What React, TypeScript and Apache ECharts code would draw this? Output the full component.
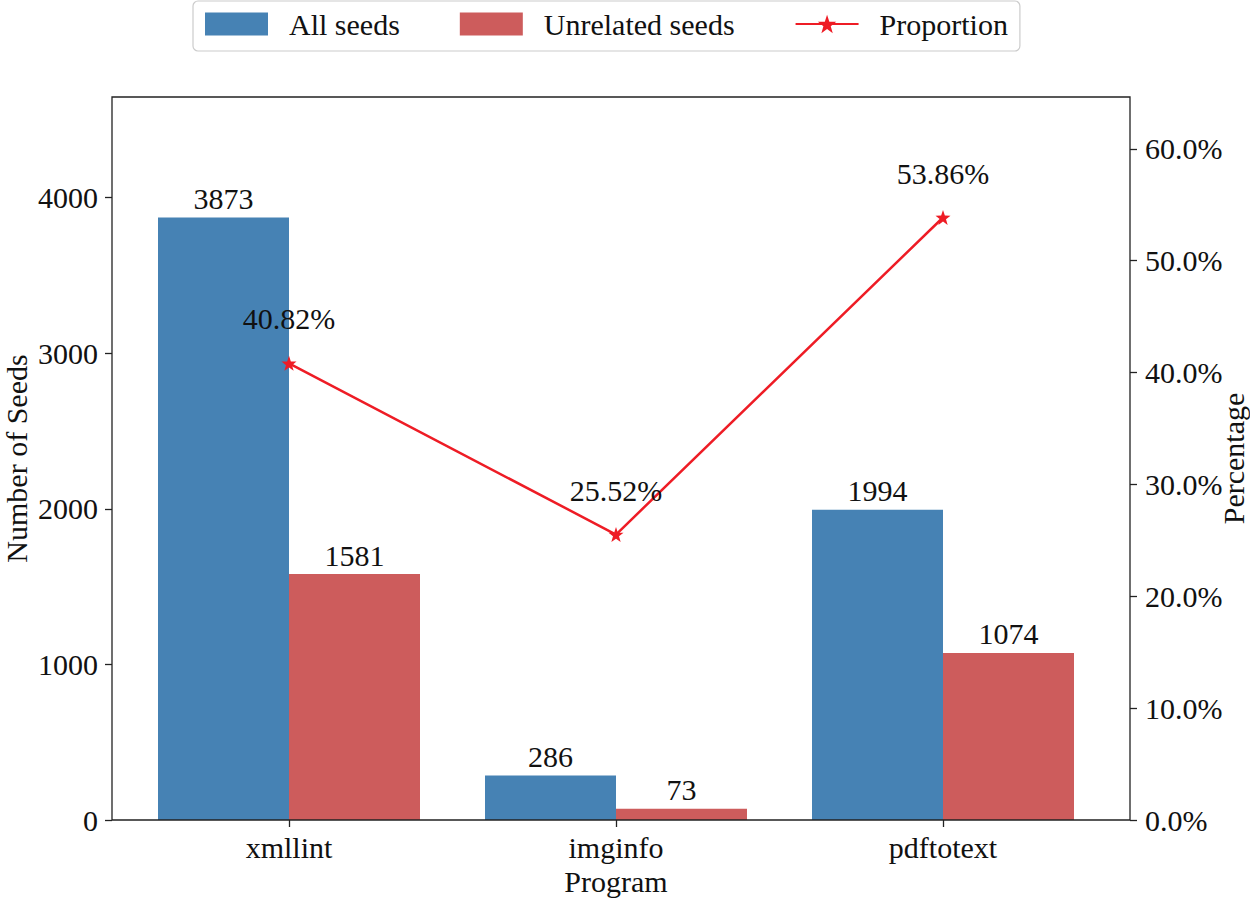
import React, { useEffect, useRef } from "react";
import * as echarts from "echarts";

const categories = ["xmllint", "imginfo", "pdftotext"];
const allSeeds = [3873, 286, 1994];
const unrelatedSeeds = [1581, 73, 1074];
const proportion = [40.82, 25.52, 53.86];
const leftTicks = [0, 1000, 2000, 3000, 4000];
const rightTicks = [0, 10, 20, 30, 40, 50, 60];

const FONT = "Liberation Serif";
const STAR =
  "path://M0,-10L2.35,-3.24L9.51,-3.09L3.8,1.24L5.88,8.09L0,4L-5.88,8.09L-3.8,1.24L-9.51,-3.09L-2.35,-3.24Z";

export default function App() {
  const ref = useRef<HTMLDivElement>(null);
  useEffect(() => {
    document.body.style.margin = "0";
    const chart = echarts.init(ref.current!, null, { renderer: "svg" });
    const leftMax = Math.max(...allSeeds) * 1.2;
    const rightMax = Math.max(...proportion) * 1.2;
    chart.setOption({
      animation: false,
      textStyle: { fontFamily: FONT },
      legend: {
        left: 193,
        top: 1,
        padding: [8, 12, 12, 12],
        itemWidth: 63,
        itemHeight: 23,
        itemGap: 60,
        borderColor: "#cccccc",
        borderWidth: 1.2,
        borderRadius: 5,
        textStyle: { fontFamily: FONT, fontSize: 30, color: "#111", padding: [0, 0, 0, 16] },
        data: [
          { name: "All seeds", icon: "rect" },
          { name: "Unrelated seeds", icon: "rect" },
          { name: "Proportion" },
        ],
      },
      grid: {
        left: 125.5,
        right: 143.5,
        top: 97,
        bottom: 80,
        containLabel: false,
        outerBoundsMode: "none",
      },
      graphic: [
        {
          type: "rect",
          z: 100,
          silent: true,
          shape: { x: 112, y: 97, width: 1018, height: 723 },
          style: { fill: "none", stroke: "#222", lineWidth: 1.3 },
        },
      ],
      xAxis: {
        type: "category",
        data: categories,
        name: "Program",
        nameLocation: "middle",
        nameGap: 46,
        nameMoveOverlap: false,
        nameTextStyle: { fontFamily: FONT, fontSize: 30, color: "#111" },
        axisLine: { show: false },
        axisTick: { show: true, alignWithLabel: true, length: 7, lineStyle: { color: "#222", width: 1.3 } },
        axisLabel: { fontFamily: FONT, fontSize: 30, color: "#111", margin: 12 },
      },
      yAxis: [
        {
          type: "value",
          min: 0,
          max: leftMax,
          offset: 13.5,
          name: "Number of Seeds",
          nameLocation: "middle",
          nameGap: 81,
          nameMoveOverlap: false,
          nameTextStyle: { fontFamily: FONT, fontSize: 30, color: "#111" },
          splitLine: { show: false },
          axisLine: { show: false },
          axisTick: { show: true, length: 7, customValues: leftTicks, lineStyle: { color: "#222", width: 1.3 } },
          axisLabel: {
            fontFamily: FONT,
            fontSize: 30,
            color: "#111",
            margin: 14,
            customValues: leftTicks,
            formatter: (v: number) => String(v),
          },
        },
        {
          type: "value",
          min: 0,
          max: rightMax,
          offset: 23.5,
          position: "right",
          name: "Percentage",
          nameLocation: "middle",
          nameGap: 88,
          nameMoveOverlap: false,
          nameTextStyle: { fontFamily: FONT, fontSize: 30, color: "#111" },
          splitLine: { show: false },
          axisLine: { show: false },
          axisTick: { show: true, length: 7, customValues: rightTicks, lineStyle: { color: "#222", width: 1.3 } },
          axisLabel: {
            fontFamily: FONT,
            fontSize: 30,
            color: "#111",
            margin: 15,
            customValues: rightTicks,
            formatter: (v: number) => v.toFixed(1) + "%",
          },
        },
      ],
      series: [
        {
          name: "All seeds",
          type: "bar",
          data: allSeeds,
          barWidth: 131,
          barGap: "0%",
          itemStyle: { color: "#4682b4" },
          label: { show: true, position: "top", distance: 4, fontFamily: FONT, fontSize: 30, color: "#111" },
        },
        {
          name: "Unrelated seeds",
          type: "bar",
          data: unrelatedSeeds,
          barWidth: 131,
          barGap: "0%",
          itemStyle: { color: "#cd5c5c" },
          label: { show: true, position: "top", distance: 4, fontFamily: FONT, fontSize: 30, color: "#111" },
        },
        {
          name: "Proportion",
          type: "line",
          yAxisIndex: 1,
          data: proportion,
          symbol: STAR,
          symbolSize: 15,
          lineStyle: { color: "#ee1c25", width: 2.5 },
          itemStyle: { color: "#ee1c25" },
          label: {
            show: true,
            position: "top",
            distance: 22,
            fontFamily: FONT,
            fontSize: 30,
            color: "#111",
            formatter: (p: any) => p.value.toFixed(2) + "%",
          },
          z: 10,
        },
      ],
    });
    return () => chart.dispose();
  }, []);
  return <div ref={ref} style={{ width: 1250, height: 900 }} />;
}
